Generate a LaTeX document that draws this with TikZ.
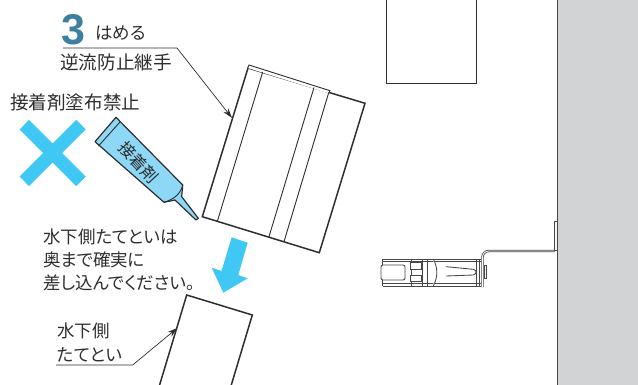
\documentclass[tikz,border=0pt]{standalone}
\usepackage{fontspec}
\setmainfont{Noto Sans CJK JP}[RawFeature=+palt]
\newfontfamily\numfont{Liberation Sans}[BoldFont=* Bold]
\usetikzlibrary{arrows.meta}
\definecolor{skyblue}{HTML}{40C8F5}
\definecolor{tubeblue}{HTML}{8DD7F7}
\definecolor{wallgray}{HTML}{D1D3D4}
\definecolor{stepteal}{HTML}{3D7F9E}
\definecolor{inkgray}{HTML}{2E2E2E}
\tikzset{
label/.style={inner sep=0pt,text=inkgray,font=\fontsize{17.5}{23}\selectfont},
part/.style={draw=inkgray,line width=1.5pt,line join=miter},
thinpart/.style={draw=inkgray,line width=0.9pt},
clip part/.style={draw=black!72,line width=0.85pt},
leader/.style={draw=inkgray,line width=0.7pt},
leader tip/.style={-{Stealth[length=10pt,width=6pt]}},
}
\begin{document}
\begin{tikzpicture}[x=1pt,y=-1pt]
\useasboundingbox (0,0) rectangle (638,385);
% wall
\fill[wallgray] (557,-1) rectangle (639,386);
\draw[clip part,line width=1pt] (557,-1) -- (557,386);
% upper box
\draw[part,line width=0.9pt] (386,-2) -- (386,83) -- (476,83) -- (476,-2);
% bracket and clip
\draw[draw=black!72,line width=2.4pt] (555,251) -- (489,251) to[out=180,in=90] (482.5,257) -- (482.5,287);
\draw[white,line width=0.8pt] (555,251) -- (489,251) to[out=180,in=90] (482.5,257) -- (482.5,287);
\draw[clip part,fill=white!80!wallgray] (554.5,221) rectangle (557,250);
\draw[clip part] (382.7,259) -- (481,259) (382.7,286) -- (481,286) (382.7,261.5) -- (481,261.5) (382.7,283.5) -- (481,283.5);
\draw[clip part] (382.7,259) -- (382.7,265) (382.7,280) -- (382.7,286);
\draw[clip part,fill=white,rounded corners=2pt] (381,265) rectangle (405,280);
\draw[clip part] (411,259) -- (411,286) (422.7,259) -- (422.7,286) (427.3,259) -- (427.3,286);
\draw[clip part,fill=white] (410.7,262.7) rectangle (421.7,269.3) (410.7,275) rectangle (421.7,281);
\draw[clip part,fill=white] (433.3,259) .. controls (438,268) and (438,277) .. (433.3,286);
\draw[clip part] (446,266.7) -- (473.3,269.3) .. controls (477,270) and (477,274) .. (473.3,275) -- (446,276);
\draw[clip part] (476,259) -- (476,286) (479,259) -- (479,286);
\draw[clip part,fill=white!80!wallgray] (484,265) rectangle (486,278);
% joint
\draw[part] (248,68) -- (365,103.3) -- (319.3,252.7) -- (202.3,216.7) -- cycle;
\draw[thinpart,fill=white] (247.7,68) -- (249,65) -- (330,90.7) -- (328.7,93.3);
\draw[thinpart] (262.7,72) -- (217.3,221.5);
\draw[thinpart] (314,87.5) -- (269,236.7);
\draw[thinpart] (328.7,92.7) -- (284,241.7);
% lower gutter
\draw[part] (159.3,386) -- (186.7,295) -- (252.3,315) -- (231,386);
% insert arrow
\fill[skyblue] (231.7,237.3) -- (247.7,242.7) -- (238.3,275) -- (247.7,278.3) -- (223.3,292.7) -- (211.7,267.7) -- (221.5,271) -- cycle;
% cross mark
\draw[skyblue,line width=13.5pt] (24.3,124.7) -- (81,181.3) (81,124.7) -- (24.3,181.3);
% adhesive tube
\draw[thinpart,line width=1.2pt,fill=tubeblue,line join=round] (95,141.7) -- (116,117.3) -- (182.7,185) -- (181.7,196.7) -- (198.3,218.3) -- (196,220) -- (175,200) -- (164,202.3) -- cycle;
\draw[thinpart] (98.5,146) -- (120,122);
\draw[thinpart] (164,202.3) .. controls (175,199) and (181,193) .. (182.7,185);
\node[label,rotate=-47,font=\fontsize{16.5}{17}\selectfont] (tube) at (138.5,162) {接着剤};
% texts
\node[anchor=base west,inner sep=0pt,text=stepteal,font=\numfont\bfseries\fontsize{43}{43}\selectfont] (stepnum) at (61.5,45) {3};
\node[label,anchor=west] (stepname) at (95,33) {はめる};
\node[label,anchor=west,font=\fontsize{18.6}{23}\selectfont] (joint) at (60,62) {逆流防止継手};
\node[label,anchor=west,font=\fontsize{18.6}{23}\selectfont] (ban) at (10,102) {接着剤塗布禁止};
\node[label,anchor=north west,align=left] (note) at (43,228.5) {水下側たてといは\\奥まで確実に\\差し込んでください。};
\node[label,anchor=west] (gutter1) at (57,331) {水下側};
\node[label,anchor=west] (gutter2) at (57,355) {たてとい};
% leaders
\coordinate (jointstart) at (63,48);
\coordinate (jointbend) at (177,48);
\coordinate (jointend) at (232,118);
\draw[leader,leader tip] (jointstart) -- (jointbend) -- (jointend);
\coordinate (gutterstart) at (56,365);
\coordinate (gutterbend) at (132.7,365);
\coordinate (gutterend) at (177.3,328);
\draw[leader,leader tip] (gutterstart) -- (gutterbend) -- (gutterend);
\end{tikzpicture}
\end{document}
